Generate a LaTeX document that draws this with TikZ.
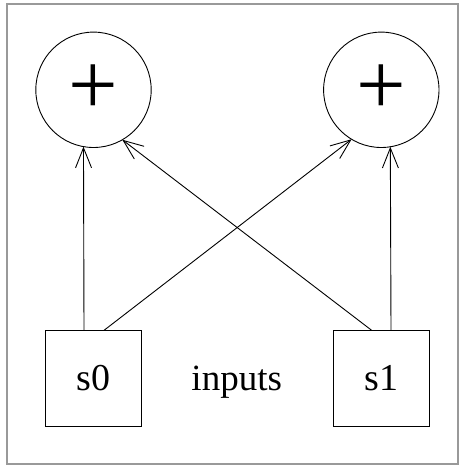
\documentclass[tikz,border=0pt]{standalone}
\usepackage{fontspec}
\setmainfont{Liberation Serif}
\usetikzlibrary{arrows.meta}
\begin{document}
\begin{tikzpicture}[x=1pt,y=-1pt,
  sumnode/.style={draw,circle,minimum size=115.4pt,inner sep=0pt,outer sep=0pt,line width=0.9pt,font=\fontsize{88}{88}\selectfont},
  inbox/.style={draw,rectangle,minimum width=96.4pt,minimum height=95.7pt,inner sep=0pt,outer sep=0pt,line width=0.9pt,font=\fontsize{38}{38}\selectfont},
  conn/.style={line width=0.9pt,-{Straight Barb[length=20pt,width=16pt,line width=0.9pt]}},
  lbl/.style={font=\fontsize{37}{37}\selectfont,inner sep=0pt}]
\useasboundingbox (0,0) rectangle (460,466);
\draw[gray!80,line width=1.2pt] (7,4) rectangle (458,464);
\node[sumnode] (c0) at (93.5,89.8) {\raisebox{-2.5pt}{+}};
\node[sumnode] (c1) at (381.3,89.8) {\raisebox{-2.5pt}{+}};
\node[inbox] (s0) at (93.5,378.2) {s0};
\node[inbox] (s1) at (381.5,378.2) {s1};
\node[lbl,anchor=base] (inp) at (236.7,390) {inputs};
\coordinate (s0a) at ([xshift=-9.5pt]s0.north);
\coordinate (s0b) at ([xshift=10.5pt]s0.north);
\coordinate (s1a) at ([xshift=-9.8pt]s1.north);
\coordinate (s1b) at ([xshift=9.5pt]s1.north);
\draw[conn] (s0a) -- (c0.260.5);
\draw[conn] (s0b) -- (c1.239.7);
\draw[conn] (s1a) -- (c0.300.7);
\draw[conn] (s1b) -- (c1.279.6);
\end{tikzpicture}
\end{document}
